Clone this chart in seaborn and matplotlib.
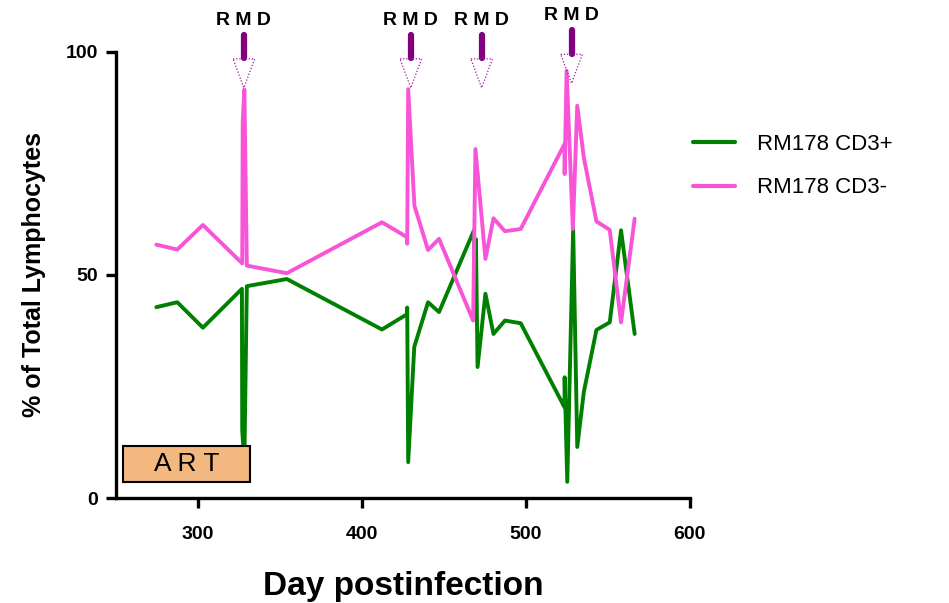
import matplotlib
matplotlib.use("Agg")
import matplotlib.pyplot as plt
import seaborn as sns
import pandas as pd
from matplotlib.patches import Rectangle, Polygon

# Day postinfection and % of total lymphocytes
cd3pos_days = [274.6, 287.4, 303.0, 326.8, 327.0, 328.3, 329.8, 354.2, 412.2, 427.4,
               427.6, 428.2, 431.9, 440.3, 447.0, 468.3, 469.0, 469.5, 470.5, 475.3,
               480.2, 487.2, 496.8, 523.5, 523.6, 525.2, 528.8, 531.3, 535.3, 543.0,
               551.1, 558.0, 566.3]
cd3pos_vals = [42.8, 43.9, 38.2, 46.9, 15.2, 8.0, 47.5, 49.1, 37.8, 41.2,
               42.7, 8.1, 33.9, 43.9, 41.7, 60.0, 47.6, 58.0, 29.4, 45.8,
               36.8, 39.8, 39.2, 20.4, 27.1, 3.7, 60.3, 11.5, 23.8, 37.7,
               39.4, 60.0, 36.8]

cd3neg_days = [274.6, 287.4, 303.0, 327.0, 327.3, 328.3, 329.8, 354.2, 412.2, 427.4,
               427.6, 428.2, 432.0, 440.3, 447.0, 467.8, 469.2, 475.3, 480.2, 487.2,
               496.8, 523.5, 523.6, 524.8, 528.6, 531.3, 535.3, 543.0, 551.1, 558.0,
               566.3]
cd3neg_vals = [56.8, 55.7, 61.2, 52.6, 84.2, 91.5, 52.1, 50.4, 61.8, 58.5,
               57.0, 91.6, 65.5, 55.6, 58.1, 39.8, 78.2, 53.6, 62.7, 59.8,
               60.3, 79.3, 72.6, 95.7, 60.3, 87.9, 76.3, 62.0, 60.1, 39.4,
               62.6]

series_names = ["RM178 CD3+", "RM178 CD3-"]
series_colors = ["#008000", "#f754d8"]

# R M D treatment markers and the ART period
rmd_days = [328.0, 429.8, 473.0, 527.8]
art_start, art_end = 254.0, 332.0

df = pd.concat([
    pd.DataFrame({"day": cd3pos_days, "pct": cd3pos_vals, "series": series_names[0]}),
    pd.DataFrame({"day": cd3neg_days, "pct": cd3neg_vals, "series": series_names[1]}),
], ignore_index=True)

sns.set_style("ticks")
plt.rcParams["font.family"] = ["Liberation Sans", "DejaVu Sans"]
plt.rcParams["text.color"] = "black"
plt.rcParams["axes.labelcolor"] = "black"
plt.rcParams["xtick.color"] = "black"
plt.rcParams["ytick.color"] = "black"
plt.rcParams["axes.edgecolor"] = "black"

fig = plt.figure(figsize=(9.49, 6.03), dpi=100)
ax = fig.add_axes([0.1222, 0.1736, 0.6048, 0.7407])

sns.lineplot(data=df, x="day", y="pct", hue="series", palette=series_colors,
             hue_order=series_names, sort=False, estimator=None,
             linewidth=2.8, ax=ax)

ax.set_xlim(250, 600)
ax.set_ylim(0, 100)
ax.set_xticks([300, 400, 500, 600])
ax.set_yticks([0, 50, 100])
for lbl in ax.get_xticklabels() + ax.get_yticklabels():
    lbl.set_fontweight("bold")
    lbl.set_fontsize(14)
sns.despine(ax=ax)
for side in ["left", "bottom"]:
    ax.spines[side].set_linewidth(2.4)
ax.tick_params(axis="x", width=2.4, length=7, direction="out", pad=13)
ax.tick_params(axis="y", width=2.4, length=7, direction="out", pad=6)

ax.set_xlabel("Day postinfection", fontsize=24, fontweight="bold", labelpad=20)
ax.set_ylabel("% of Total Lymphocytes", fontsize=18, fontweight="bold", labelpad=14)

# ART box
ax.add_patch(Rectangle((art_start, 3.7), art_end - art_start, 8.1,
                       facecolor="#f2b880", edgecolor="black", linewidth=1.5,
                       clip_on=False, zorder=5))
ax.text((art_start + art_end) / 2, 7.6, "A R T", fontsize=19, ha="center",
        va="center", zorder=6)

# R M D arrows above the plot
lift = [0, 0, 0, 1.0]
for d, dy in zip(rmd_days, lift):
    ax.plot([d, d], [98.5 + dy, 103.8 + dy], color="#800080", linewidth=4.5,
            solid_capstyle="round", clip_on=False, zorder=6)
    ax.add_patch(Polygon([[d - 6.6, 98.4 + dy], [d + 6.6, 98.4 + dy], [d, 91.9 + dy]],
                         closed=True, fill=False, edgecolor="#9a1a9a",
                         linestyle=(0, (1, 1.5)), linewidth=0.9, clip_on=False, zorder=6))
    ax.text(d, 107.0 + dy, "R M D", fontsize=14, fontweight="bold", ha="center",
            va="center", clip_on=False)

leg = ax.legend(loc="upper left", bbox_to_anchor=(0.97, 0.86), frameon=False,
                fontsize=16, handlelength=1.9, handletextpad=1.0, labelspacing=1.0)
for line in leg.get_lines():
    line.set_linewidth(3)

fig.savefig("out.png", dpi=100)
